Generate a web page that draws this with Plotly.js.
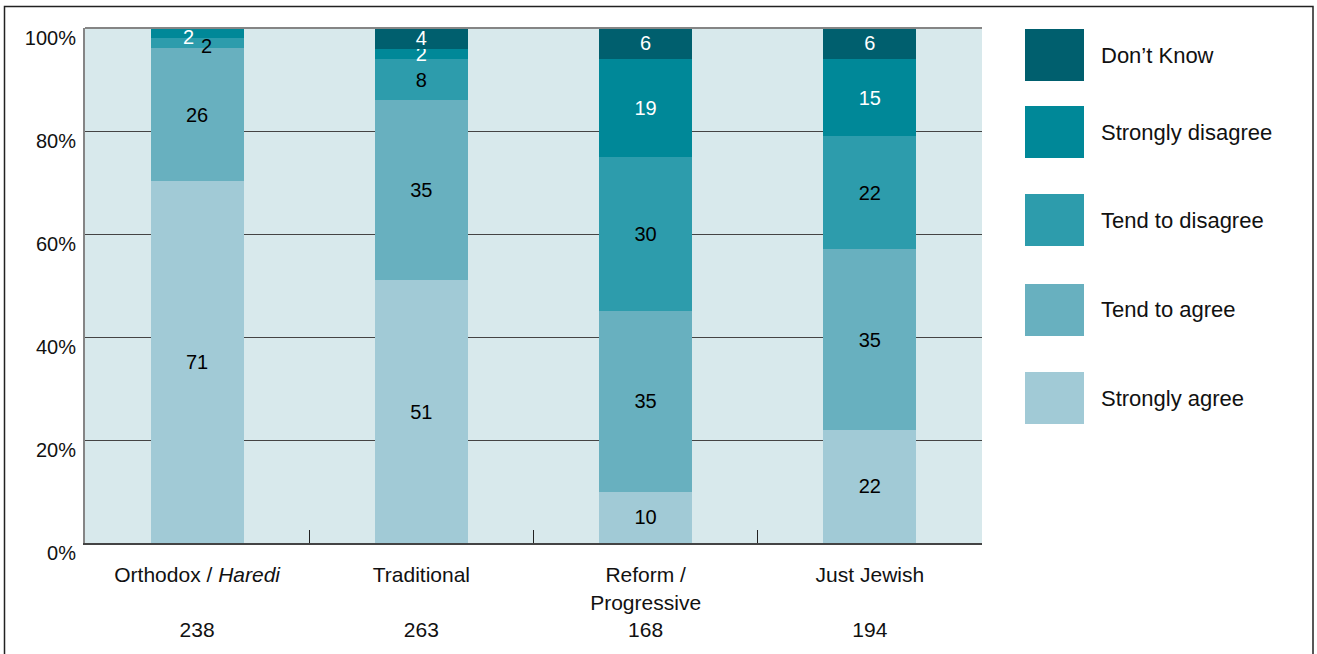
<!DOCTYPE html>
<html><head><meta charset="utf-8">
<script src="https://cdn.plot.ly/plotly-3.0.1.min.js"></script>
<style>html,body{margin:0;padding:0;background:#fff;} #chart{width:1317px;height:654px;}</style>
</head><body><div id="chart"></div>
<script>
// ---- data ----
const categories = ['Orthodox / <i>Haredi</i>', 'Traditional', 'Reform /<br>Progressive', 'Just Jewish'];
const sampleSizes = [238, 263, 168, 194];
const seriesNames = ['Strongly agree', 'Tend to agree', 'Tend to disagree', 'Strongly disagree', 'Don\u2019t Know'];
const stronglyAgree = [71, 51, 10, 22];
const tendToAgree = [26, 35, 35, 35];
const tendToDisagree = [2, 8, 30, 22];
const stronglyDisagree = [2, 2, 19, 15];
const dontKnow = [0, 4, 6, 6];
const yTicks = [0, 20, 40, 60, 80, 100];

// ---- styles ----
const seriesValues = [stronglyAgree, tendToAgree, tendToDisagree, stronglyDisagree, dontKnow];
const colors = ['#a1cad6', '#68b0bf', '#2d9cac', '#008898', '#005f6e'];
const textColors = ['#000', '#000', '#000', '#fff', '#fff'];
const FONT = 'Liberation Sans, Arial, sans-serif';

// labels drawn beside the bar centre because the segments are too thin to stack text
const offsetLabels = [
  {cat: 0, series: 2, xshift: 9, yshift: -3},
  {cat: 0, series: 3, xshift: -9, yshift: -4}
];

const tickLabels = categories.map((c, i) =>
  c + (c.indexOf('<br>') >= 0 ? '<br>' : '<br><br>') + sampleSizes[i]);

const totals = categories.map((_, i) => seriesValues.reduce((s, arr) => s + arr[i], 0));

const traces = seriesValues.map((vals, si) => ({
  type: 'bar',
  name: seriesNames[si],
  x: tickLabels,
  y: vals,
  text: vals.map((v, ci) => {
    if (v === 0) return '';
    if (offsetLabels.some(o => o.cat === ci && o.series === si)) return '';
    return String(v);
  }),
  texttemplate: '%{text}',
  textposition: 'inside',
  insidetextanchor: 'middle',
  textangle: 0,
  constraintext: 'none',
  textfont: {family: FONT, size: 20, color: textColors[si]},
  marker: {color: colors[si], line: {width: 0}},
  hoverinfo: 'skip',
  showlegend: false
}));

const annotations = offsetLabels.map(o => {
  let below = 0;
  for (let s = 0; s < o.series; s++) below += seriesValues[s][o.cat];
  const v = seriesValues[o.series][o.cat];
  return {
    x: tickLabels[o.cat], y: (below + v / 2) * 100 / totals[o.cat],
    xref: 'x', yref: 'y', text: String(v), showarrow: false,
    xshift: o.xshift, yshift: o.yshift,
    font: {family: FONT, size: 20, color: textColors[o.series]}
  };
});

// ---- custom legend (top to bottom: reverse series order) ----
const L = 85, R = 982, T = 28, B = 543;
const px = x => (x - L) / (R - L);
const py = y => (B - y) / (B - T);
const legendTops = [29, 106, 194, 284, 372];
const legendH = 52;
const shapes = [];
[4, 3, 2, 1, 0].forEach((si, k) => {
  const top = legendTops[k];
  shapes.push({type: 'rect', xref: 'paper', yref: 'paper',
    x0: px(1025), x1: px(1084), y0: py(top + legendH), y1: py(top),
    fillcolor: colors[si], line: {width: 0}});
  annotations.push({xref: 'paper', yref: 'paper', x: px(1099), y: py(top + legendH / 2),
    xanchor: 'left', yanchor: 'middle', showarrow: false, text: seriesNames[si],
    font: {family: FONT, size: 22, color: '#111'}});
});
// top border of plot
shapes.push({type: 'line', xref: 'paper', yref: 'paper', x0: 0, x1: 1, y0: 1, y1: 1,
  line: {color: '#858585', width: 2}});
// outer frame
shapes.push({type: 'rect', xref: 'paper', yref: 'paper',
  x0: px(4.5), x1: px(1313), y0: py(700), y1: py(6.5),
  line: {color: '#222', width: 1.5}, fillcolor: 'rgba(0,0,0,0)'});

const layout = {
  width: 1317, height: 654,
  margin: {l: L, r: 1317 - R, t: T, b: 654 - B, pad: 0},
  paper_bgcolor: '#fff',
  plot_bgcolor: '#d8e9ec',
  barmode: 'stack',
  barnorm: 'percent',
  bargap: 0.585,
  font: {family: FONT, size: 20, color: '#111'},
  showlegend: false,
  xaxis: {
    type: 'category',
    showline: true, linecolor: '#444', linewidth: 2,
    ticks: 'inside', tickson: 'boundaries', ticklen: 13, tickwidth: 1.2, tickcolor: '#222',
    showgrid: false, zeroline: false,
    tickfont: {family: FONT, size: 21, color: '#111'},
    ticklabelstandoff: 12,
    fixedrange: true
  },
  yaxis: {
    range: [0, 100],
    tickvals: yTicks, ticktext: yTicks.map(v => v + '%'),
    showline: true, linecolor: '#858585', linewidth: 2,
    showgrid: true, gridcolor: '#444', gridwidth: 1,
    zeroline: false, ticks: '',
    tickfont: {family: FONT, size: 20, color: '#111'},
    ticklabelshift: 10, ticklabelstandoff: 3,
    fixedrange: true
  },
  shapes: shapes,
  annotations: annotations
};

Plotly.newPlot('chart', traces, layout, {displayModeBar: false, staticPlot: true});
</script>
</body></html>
